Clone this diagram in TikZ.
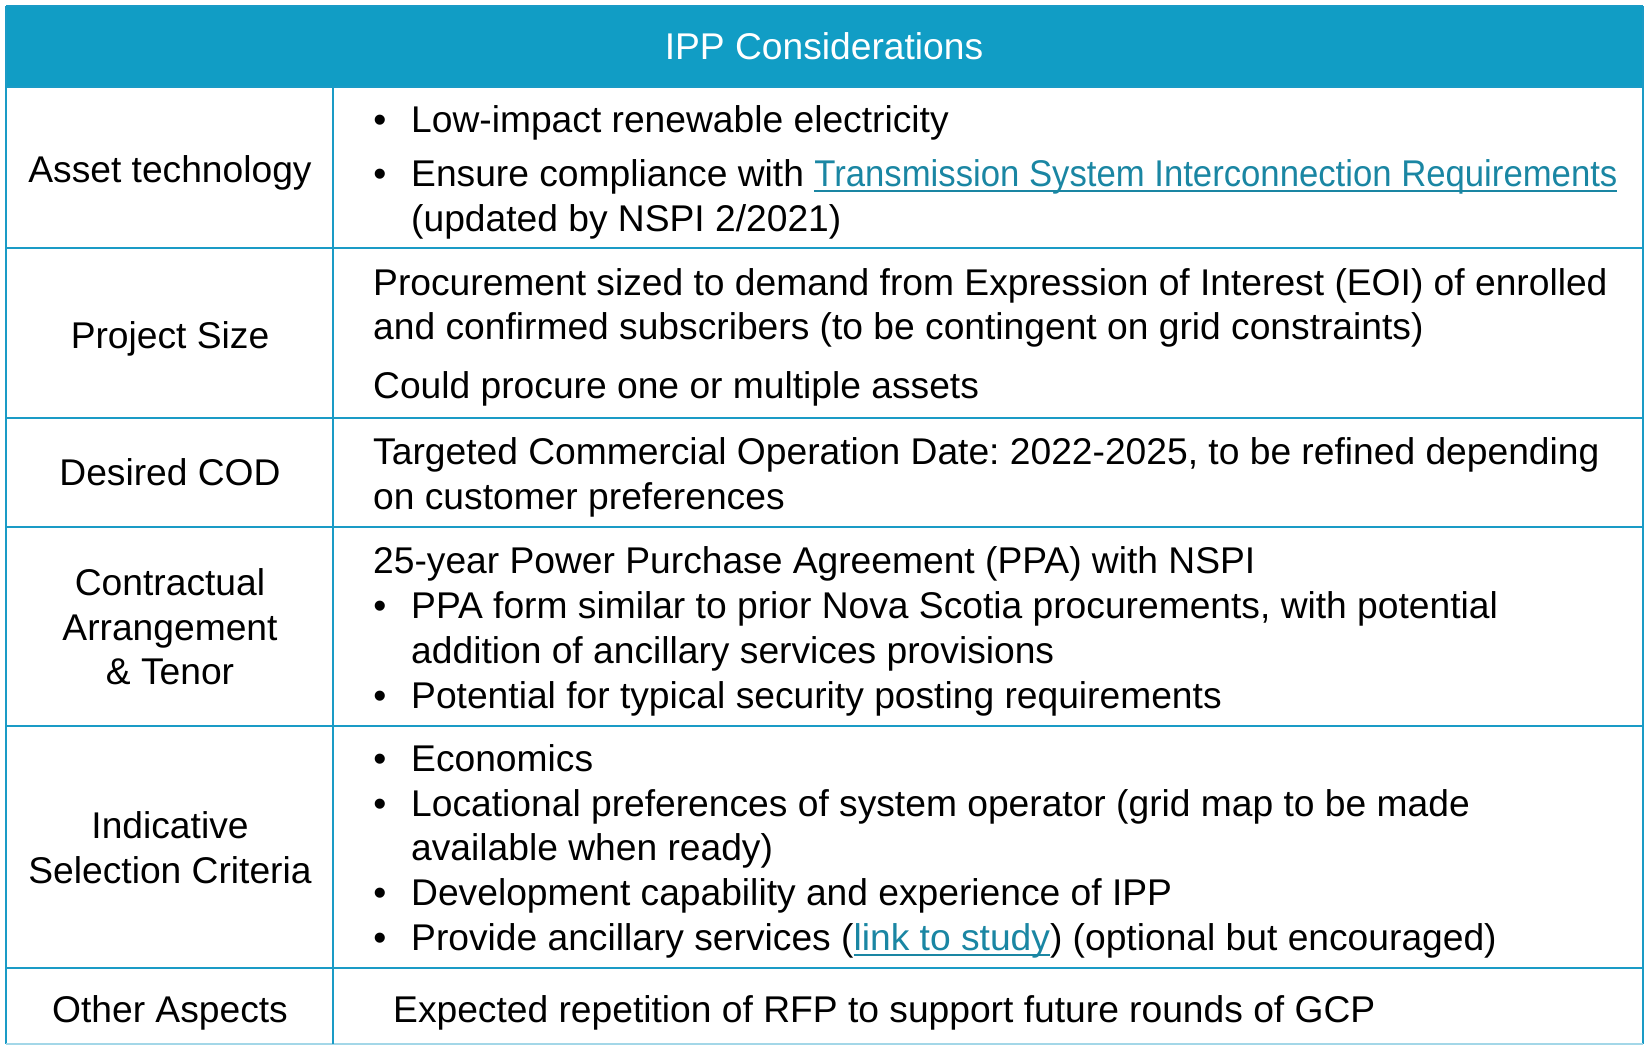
\documentclass[tikz,border=0pt]{standalone}
\usepackage{fontspec}
\usepackage{graphicx}
\setmainfont{Liberation Sans}
\frenchspacing
\definecolor{headc}{HTML}{119DC5}
\definecolor{linec}{HTML}{1A9BC6}
\definecolor{linkc}{HTML}{1A86A3}
\newcommand{\lnk}[1]{{\color{linkc}\setbox0\hbox{#1}\rlap{\rule[-6pt]{\wd0}{2.5pt}}\box0}}
\newcommand{\lnkw}[2]{{\color{linkc}\setbox0\hbox{\resizebox{#1}{\height}{#2}}\rlap{\rule[-6pt]{\wd0}{2.5pt}}\box0}}
\begin{document}
\begin{tikzpicture}[x=1pt,y=-1pt,
  txt/.style={anchor=base west,inner sep=0pt,font=\fontsize{37.2}{43}\selectfont},
  lab/.style={anchor=base,inner sep=0pt,font=\fontsize{37.2}{43}\selectfont},
  bul/.style={anchor=base,inner sep=0pt,font=\fontsize{37.2}{43}\selectfont},
  grid/.style={draw=linec,line width=2pt}]
\useasboundingbox (0,0) rectangle (1646,1046);
\fill[white] (0,0) rectangle (1646,1046);
% header
\fill[headc] (6,6) rectangle (1643,87);
\node[lab,text=white] (head) at (824,60) {IPP Considerations};
% grid lines
\draw[grid] (6,6) -- (1643,6);
\draw[grid] (6,6) -- (6,1044);
\draw[grid] (1643,6) -- (1643,1044);
\draw[draw=linec!40,line width=2pt] (6,1044) -- (1643,1044);
\draw[grid] (333,87) -- (333,1044);
\foreach \yy in {87,248,418,527,726,968} \draw[grid] (6,\yy) -- (1643,\yy);
% row 1
\node[lab] (l1) at (170,182) {Asset technology};
\node[bul] (b11) at (380,133) {•};
\node[txt] (t11) at (411,133) {Low-impact renewable electricity};
\node[bul] (b12) at (380,186) {•};
\node[txt] (t12) at (411,186) {Ensure compliance with \lnkw{803pt}{Transmission System Interconnection Requirements}};
\node[txt] (t13) at (411,231) {(updated by NSPI 2/2021)};
% row 2
\node[lab] (l2) at (170,348) {Project Size};
\node[txt] (t21) at (373,295) {Procurement sized to demand from Expression of Interest (EOI) of enrolled};
\node[txt] (t22) at (373,339) {and confirmed subscribers (to be contingent on grid constraints)};
\node[txt] (t23) at (373,398) {Could procure one or multiple assets};
% row 3
\node[lab] (l3) at (170,485) {Desired COD};
\node[txt] (t31) at (373,464) {Targeted Commercial Operation Date: 2022-2025, to be refined depending};
\node[txt] (t32) at (373,509) {on customer preferences};
% row 4
\node[lab] (l41) at (170,595) {Contractual};
\node[lab] (l42) at (170,640) {Arrangement};
\node[lab] (l43) at (170,684) {\& Tenor};
\node[txt] (t41) at (373,573) {25-year Power Purchase Agreement (PPA) with NSPI};
\node[bul] (b42) at (380,618) {•};
\node[txt] (t42) at (411,618) {PPA form similar to prior Nova Scotia procurements, with potential};
\node[txt] (t43) at (411,663) {addition of ancillary services provisions};
\node[bul] (b44) at (380,708) {•};
\node[txt] (t44) at (411,708) {Potential for typical security posting requirements};
% row 5
\node[lab] (l51) at (170,838) {Indicative};
\node[lab] (l52) at (170,883) {Selection Criteria};
\node[bul] (b51) at (380,771) {•};
\node[txt] (t51) at (411,771) {Economics};
\node[bul] (b52) at (380,816) {•};
\node[txt] (t52) at (411,816) {Locational preferences of system operator (grid map to be made};
\node[txt] (t53) at (411,860) {available when ready)};
\node[bul] (b54) at (380,905) {•};
\node[txt] (t54) at (411,905) {Development capability and experience of IPP};
\node[bul] (b55) at (380,950) {•};
\node[txt] (t55) at (411,950) {Provide ancillary services (\lnk{link to study}) (optional but encouraged)};
% row 6
\node[lab] (l6) at (170,1022) {Other Aspects};
\node[txt] (t6) at (393,1022) {Expected repetition of RFP to support future rounds of GCP};
\end{tikzpicture}
\end{document}
